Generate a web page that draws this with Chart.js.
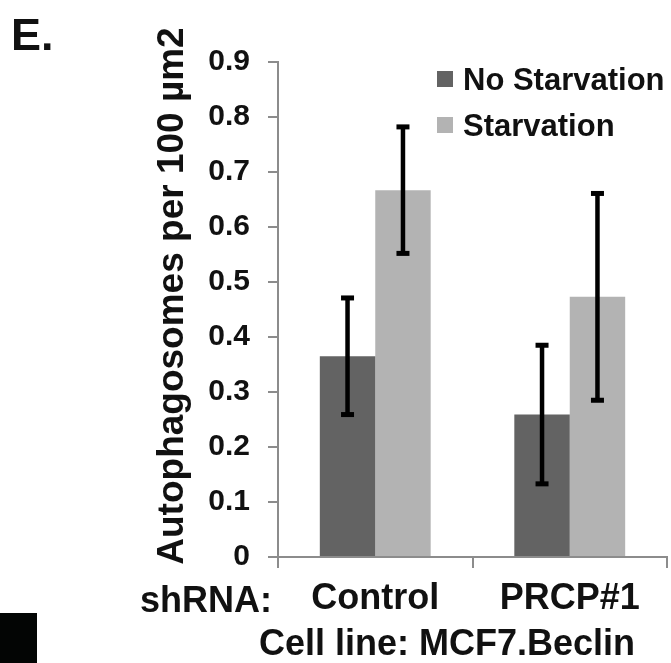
<!DOCTYPE html>
<html>
<head>
<meta charset="utf-8">
<script src="https://cdn.jsdelivr.net/npm/chart.js@4.4.1/dist/chart.umd.min.js"></script>
<style>
  html, body { margin: 0; padding: 0; background: #fff; }
  #wrap { width: 671px; height: 663px; }
</style>
</head>
<body>
<div id="wrap"><canvas id="myChart" width="671" height="663"></canvas></div>
<script>
// chart data
var categories = ["Control", "PRCP#1"];
var seriesNames = ["No Starvation", "Starvation"];
var noStarvation = [0.365, 0.259];
var starvation = [0.667, 0.473];
var noStarvationErr = [0.106, 0.126];
var starvationErr = [0.115, 0.188];
var yTicks = [0, 0.1, 0.2, 0.3, 0.4, 0.5, 0.6, 0.7, 0.8, 0.9];

var panelLabel = "E.";
var yTitle = "Autophagosomes per 100 µm2";
var xPrefix = "shRNA:";
var xTitle = "Cell line: MCF7.Beclin";

var FONT = "'Liberation Sans', Arial, sans-serif";
var TEXT = "#111";
var AXIS = "#8c8c8c";
var errs = [noStarvationErr, starvationErr];

// error bars drawn on top of the bars
var errorBars = {
    id: "errorBars",
    afterDatasetsDraw: function(chart) {
        var ctx = chart.ctx;
        var y = chart.scales.y;
        chart.data.datasets.forEach(function(ds, i) {
            var meta = chart.getDatasetMeta(i);
            meta.data.forEach(function(bar, j) {
                var v = ds.data[j], e = errs[i][j];
                var top = y.getPixelForValue(v + e);
                var bot = y.getPixelForValue(v - e);
                ctx.save();
                ctx.strokeStyle = "#000";
                ctx.fillStyle = "#000";
                ctx.lineWidth = 4.5;
                ctx.beginPath();
                ctx.moveTo(bar.x, top);
                ctx.lineTo(bar.x, bot);
                ctx.stroke();
                ctx.fillRect(bar.x - 6.5, top - 2.5, 13, 5);
                ctx.fillRect(bar.x - 6.5, bot - 2.5, 13, 5);
                ctx.restore();
            });
        });
    }
};

// legend inside the plot + extra labels
var extras = {
    id: "extras",
    afterDraw: function(chart) {
        var ctx = chart.ctx;
        ctx.save();
        ctx.fillStyle = TEXT;
        ctx.textAlign = "left";
        ctx.textBaseline = "alphabetic";

        ctx.font = "bold 45px " + FONT;
        ctx.fillText(panelLabel, 11, 50);

        // legend
        ctx.font = "bold 31px " + FONT;
        chart.data.datasets.forEach(function(ds, i) {
            var rowY = 79 + i * 46;
            ctx.fillStyle = ds.backgroundColor;
            ctx.fillRect(437, rowY - 8, 16, 16);
            ctx.fillStyle = TEXT;
            ctx.fillText(ds.label, 463, rowY + 11);
        });

        // y title
        ctx.font = "bold 37px " + FONT;
        ctx.save();
        ctx.translate(183, 296);
        ctx.rotate(-Math.PI / 2);
        ctx.textAlign = "center";
        ctx.fillText(yTitle, 0, 0);
        ctx.restore();

        ctx.font = "bold 36px " + FONT;
        ctx.textAlign = "left";
        ctx.fillText(xPrefix, 140, 612);
        ctx.textAlign = "center";
        ctx.fillText(xTitle, 447, 655);

        ctx.fillStyle = "#030504";
        ctx.fillRect(0, 613, 37, 50);
        ctx.restore();
    }
};

var ctx = document.getElementById("myChart").getContext("2d");
var chart = new Chart(ctx, {
    type: "bar",
    data: {
        labels: categories,
        datasets: [{
            label: seriesNames[0],
            data: noStarvation,
            backgroundColor: "#636363",
            categoryPercentage: 0.57,
            barPercentage: 1.0
        }, {
            label: seriesNames[1],
            data: starvation,
            backgroundColor: "#b3b3b3",
            categoryPercentage: 0.57,
            barPercentage: 1.0
        }]
    },
    options: {
        responsive: false,
        animation: false,
        layout: { padding: { top: 62, right: 4, bottom: 0, left: 0 } },
        plugins: {
            legend: { display: false },
            tooltip: { enabled: false }
        },
        scales: {
            x: {
                grid: { drawOnChartArea: false, offset: true, color: AXIS, lineWidth: 2, tickLength: 11 },
                border: { color: AXIS, width: 2 },
                ticks: { color: TEXT, font: { family: FONT, size: 36, weight: "bold" }, padding: 9, maxRotation: 0 },
                afterFit: function(s) { s.height = 106; }
            },
            y: {
                min: 0,
                max: 0.9,
                afterBuildTicks: function(axis) {
                    axis.ticks = yTicks.map(function(v) { return { value: v }; });
                },
                grid: { drawOnChartArea: false, color: AXIS, lineWidth: 2, tickLength: 10 },
                border: { color: AXIS, width: 2 },
                ticks: {
                    color: TEXT,
                    font: { family: FONT, size: 30, weight: "bold" },
                    padding: 18,
                    callback: function(v) { return v === 0 ? "0" : v.toFixed(1); }
                },
                afterFit: function(s) { s.width = 278; }
            }
        }
    },
    plugins: [errorBars, extras]
});
</script>
</body>
</html>
